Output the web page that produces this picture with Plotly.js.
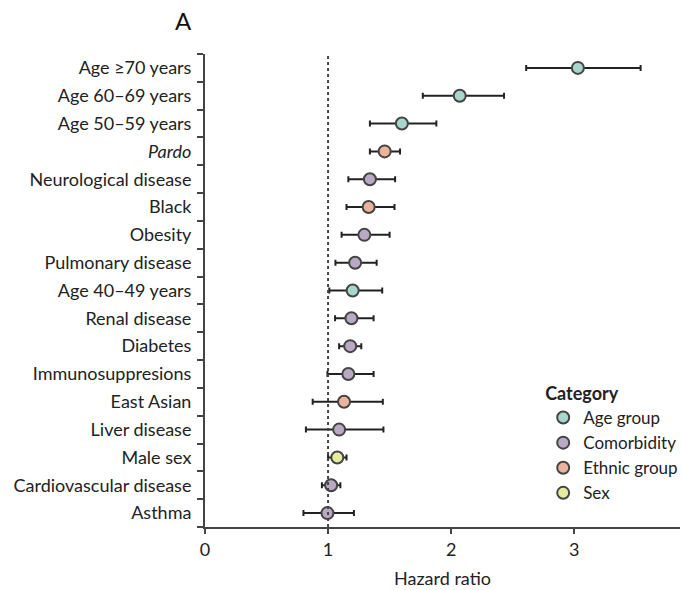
<!DOCTYPE html>
<html>
<head>
<meta charset="utf-8">
<script src="https://cdn.plot.ly/plotly-3.0.1.min.js"></script>
<style>html,body{margin:0;padding:0;background:#fff;}#chart{width:681px;height:590px;}</style>
</head>
<body>
<div id="chart"></div>
<script>
var labels = ["Age ≥70 years","Age 60–69 years","Age 50–59 years","Pardo","Neurological disease","Black","Obesity","Pulmonary disease","Age 40–49 years","Renal disease","Diabetes","Immunosuppresions","East Asian","Liver disease","Male sex","Cardiovascular disease","Asthma"];
var hr    = [3.03, 2.07, 1.60, 1.46, 1.34, 1.33, 1.295, 1.22, 1.20, 1.19, 1.18, 1.165, 1.13, 1.09, 1.075, 1.025, 0.995];
var lower = [2.61, 1.77, 1.34, 1.34, 1.165, 1.15, 1.11, 1.06, 1.01, 1.057, 1.09, 0.995, 0.875, 0.82, 1.00, 0.95, 0.80];
var upper = [3.54, 2.43, 1.88, 1.585, 1.545, 1.54, 1.50, 1.395, 1.44, 1.37, 1.27, 1.37, 1.445, 1.45, 1.15, 1.10, 1.21];
var category = ["Age group","Age group","Age group","Ethnic group","Comorbidity","Ethnic group","Comorbidity","Comorbidity","Age group","Comorbidity","Comorbidity","Comorbidity","Ethnic group","Comorbidity","Sex","Comorbidity","Comorbidity"];
var categories = ["Age group","Comorbidity","Ethnic group","Sex"];
var colors = ["#a8d5cc","#b9a9c2","#e9b39c","#e6eb9e"];
var tickText = labels.map(function(l){ return l === "Pardo" ? "<i>Pardo</i>" : l; });

var traces = categories.map(function(cat, ci){
  var xs=[], ys=[], ep=[], em=[];
  for (var i=0;i<labels.length;i++){
    if (category[i]===cat){
      xs.push(hr[i]); ys.push(labels[i]);
      ep.push(upper[i]-hr[i]); em.push(hr[i]-lower[i]);
    }
  }
  return {
    type:'scatter', mode:'markers', name:cat, x:xs, y:ys,
    error_x:{type:'data', symmetric:false, array:ep, arrayminus:em, color:'#222', thickness:2, width:3},
    marker:{symbol:'circle', size:12, color:colors[ci], line:{color:'#444', width:2}}
  };
});

var fontFam = 'Lato, "Open Sans", sans-serif';
var layout = {
  width:681, height:590,
  margin:{l:205, r:1, t:54, b:63, autoexpand:false},
  paper_bgcolor:'#fff', plot_bgcolor:'#fff',
  font:{family:fontFam, size:18, color:'#222'},
  title:{text:'A', x:183/681, xref:'container', xanchor:'center', y:1-22/590, yref:'container', yanchor:'middle', font:{size:24, color:'#111', family:fontFam}},
  xaxis:{range:[0,3.86], tickvals:[0,1,2,3], ticktext:['0','1','2','3'], showgrid:false, zeroline:false, showline:true, linecolor:'#444', linewidth:2, ticks:'outside', ticklen:5, tickwidth:2, tickcolor:'#444', tickfont:{size:18}, title:{text:'Hazard ratio', font:{size:18}, standoff:14}, automargin:false},
  yaxis:{type:'category', categoryorder:'array', categoryarray:labels, range:[16.5,-0.5], tickvals:labels, ticktext:tickText, tickson:'boundaries', showgrid:false, zeroline:false, showline:true, linecolor:'#444', linewidth:2, ticks:'outside', ticklen:6, tickwidth:2, tickcolor:'#444', tickfont:{size:18}, ticklabelstandoff:8, automargin:false},
  shapes:[{type:'line', xref:'x', yref:'paper', x0:1, x1:1, y0:0, y1:1, line:{color:'#444', width:2, dash:'dot'}}],
  legend:{x:0.712, y:0.318, xanchor:'left', yanchor:'top', bgcolor:'rgba(0,0,0,0)', font:{size:17}, title:{text:'<b>Category</b>', font:{size:18}}, itemwidth:30, tracegroupgap:0},
  showlegend:true
};
Plotly.newPlot('chart', traces, layout, {staticPlot:true});
</script>
</body>
</html>
